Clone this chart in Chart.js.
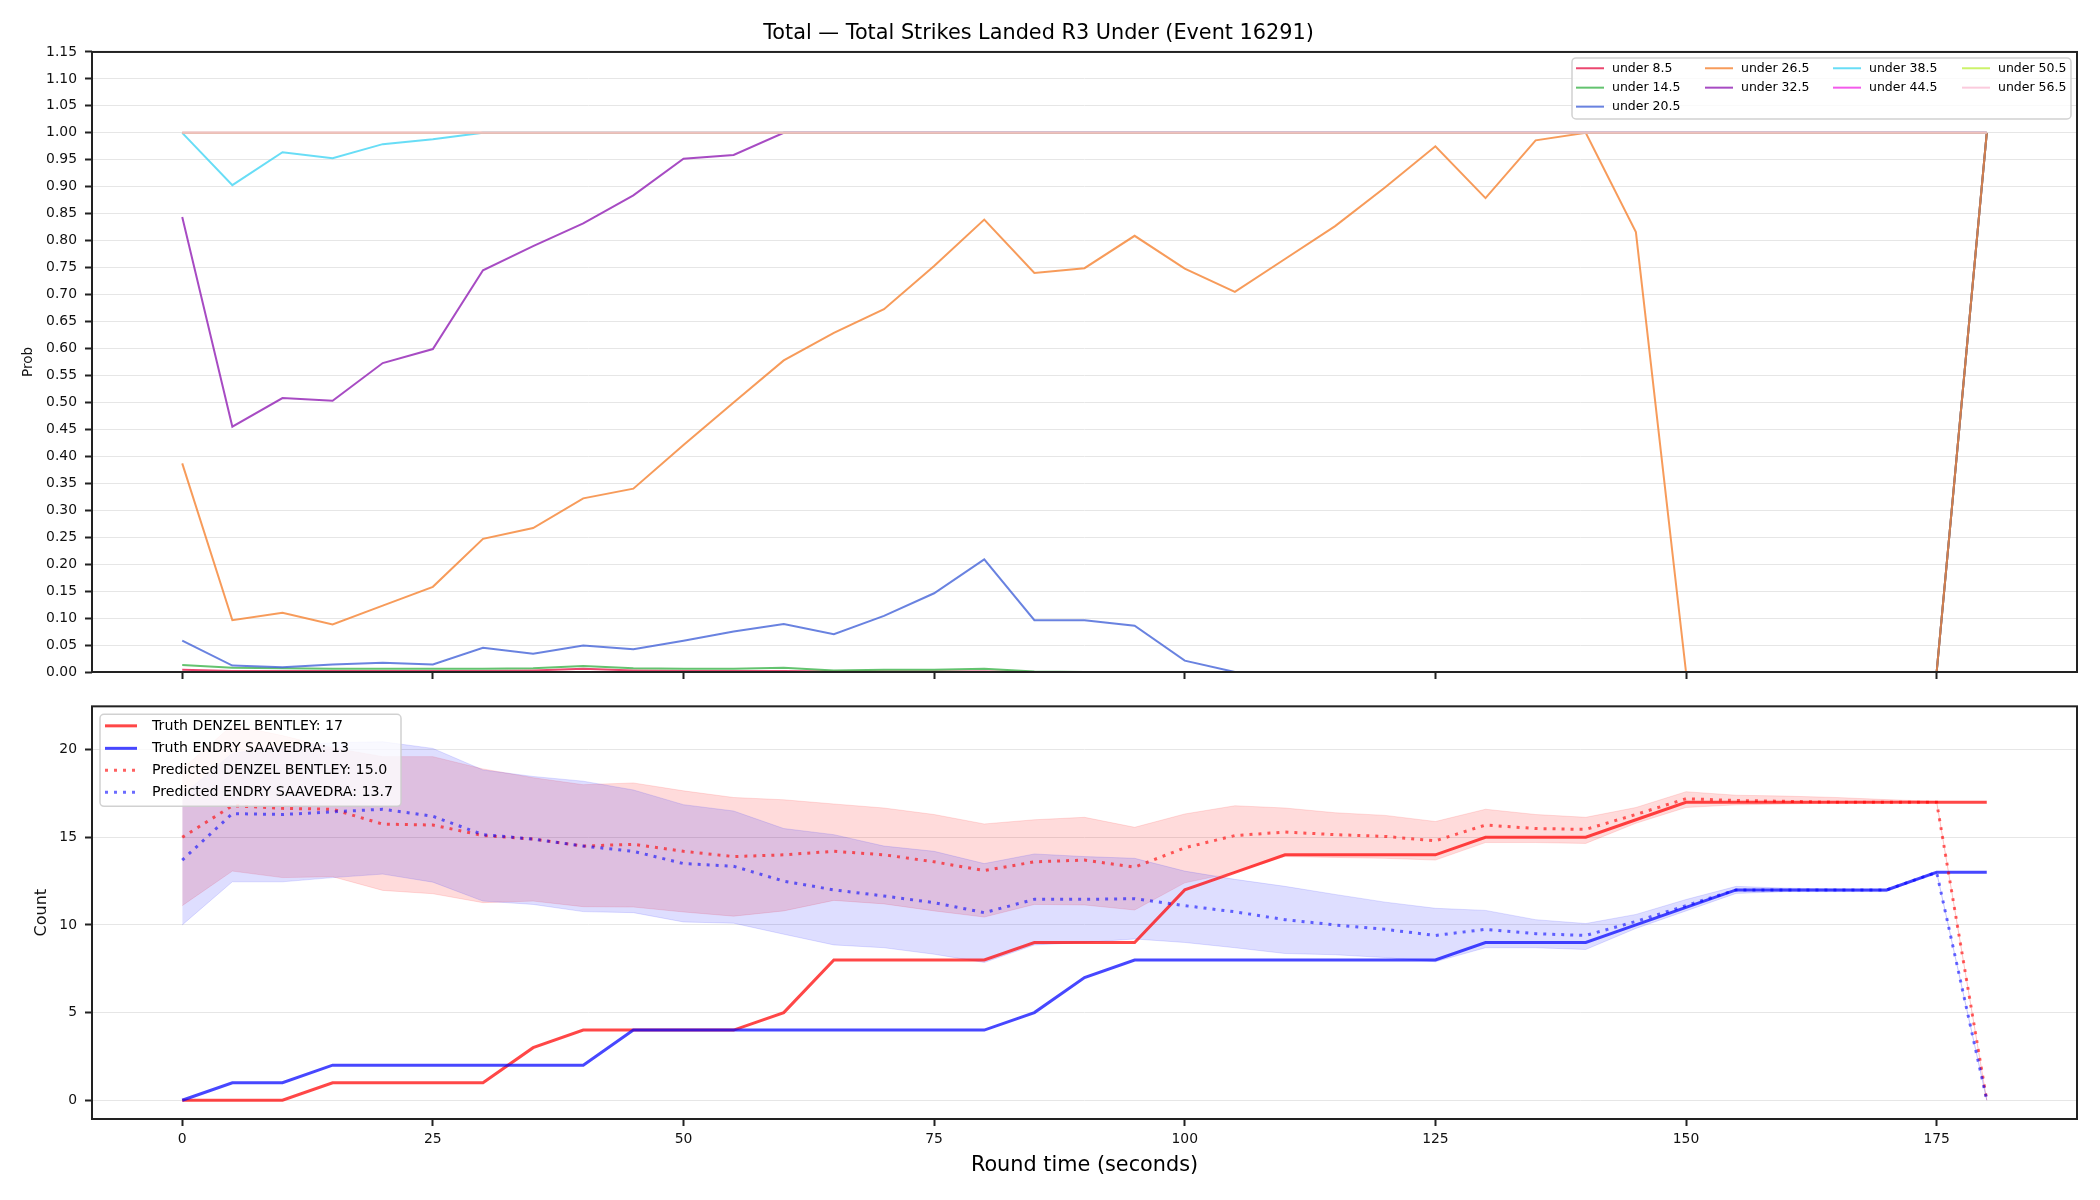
<!DOCTYPE html>
<html><head><meta charset="utf-8">
<script src="https://cdn.jsdelivr.net/npm/chart.js@4.4.0/dist/chart.umd.min.js"></script>
<style>
html,body{margin:0;padding:0;background:#fff;}
#wrap{position:relative;width:2100px;height:1200px;background:#fff;overflow:hidden;}
.c{position:absolute;left:0;}
canvas{display:block;}
</style></head><body>
<div id="wrap">
<div class="c" style="top:0;width:2100px;height:690px"><canvas id="topc" width="2100" height="690" style="width:2100px;height:690px"></canvas></div>
<div class="c" style="top:690px;width:2100px;height:510px"><canvas id="botc" width="2100" height="510" style="width:2100px;height:510px"></canvas></div>
</div>
<script>
// ---------- data ----------
const TITLE = 'Total \u2014 Total Strikes Landed R3 Under (Event 16291)';
const TIME = [0,5,10,15,20,25,30,35,40,45,50,55,60,65,70,75,80,85,90,95,100,105,110,115,120,125,130,135,140,145,150,155,160,165,170,175,180];
const X_TICKS = [0,25,50,75,100,125,150,175];
const PROB_TICKS = [0,0.05,0.10,0.15,0.20,0.25,0.30,0.35,0.40,0.45,0.50,0.55,0.60,0.65,0.70,0.75,0.80,0.85,0.90,0.95,1.00,1.05,1.10,1.15];
const COUNT_TICKS = [0,5,10,15,20];

const UNDER_LABELS = ['under 8.5','under 14.5','under 20.5','under 26.5','under 32.5','under 38.5','under 44.5','under 50.5','under 56.5'];
const UNDER_8_5  = [0.004,0.002,0.002,0.002,0.002,0.002,0.002,0.003,0.006,0.003,0.002,0.002,0.002,0.001,0.001,0.001,0.001,0,0,0,0,0,0,0,0,0,0,0,0,0,0,0,0,0,0,0,1];
const UNDER_14_5 = [0.013,0.008,0.007,0.006,0.006,0.006,0.006,0.007,0.011,0.007,0.006,0.006,0.008,0.003,0.004,0.004,0.006,0.001,0,0,0,0,0,0,0,0,0,0,0,0,0,0,0,0,0,0,1];
const UNDER_20_5 = [0.058,0.012,0.009,0.014,0.017,0.014,0.045,0.034,0.049,0.042,0.058,0.075,0.089,0.070,0.104,0.146,0.209,0.096,0.096,0.086,0.021,0,0,0,0,0,0,0,0,0,0,0,0,0,0,0,1];
const UNDER_26_5 = [0.387,0.096,0.110,0.088,0.123,0.158,0.247,0.267,0.322,0.340,0.421,0.500,0.578,0.629,0.673,0.753,0.839,0.740,0.749,0.809,0.748,0.705,0.766,0.827,0.899,0.975,0.879,0.986,1.0,0.816,0,0,0,0,0,0,1];
const UNDER_32_5 = [0.844,0.455,0.508,0.503,0.573,0.599,0.745,0.790,0.832,0.884,0.952,0.959,1,1,1,1,1,1,1,1,1,1,1,1,1,1,1,1,1,1,1,1,1,1,1,1,1];
const UNDER_38_5 = [1.0,0.903,0.964,0.953,0.979,0.988,1,1,1,1,1,1,1,1,1,1,1,1,1,1,1,1,1,1,1,1,1,1,1,1,1,1,1,1,1,1,1];
const UNDER_44_5 = [1,1,1,1,1,1,1,1,1,1,1,1,1,1,1,1,1,1,1,1,1,1,1,1,1,1,1,1,1,1,1,1,1,1,1,1,1];
const UNDER_50_5 = [1,1,1,1,1,1,1,1,1,1,1,1,1,1,1,1,1,1,1,1,1,1,1,1,1,1,1,1,1,1,1,1,1,1,1,1,1];
const UNDER_56_5 = [1,1,1,1,1,1,1,1,1,1,1,1,1,1,1,1,1,1,1,1,1,1,1,1,1,1,1,1,1,1,1,1,1,1,1,1,1];
const UNDER_COLORS = ['rgba(230,25,75,0.8)','rgba(60,180,75,0.8)','rgba(67,99,216,0.8)','rgba(245,130,49,0.8)','rgba(145,30,180,0.8)','rgba(66,212,244,0.8)','rgba(240,50,230,0.8)','rgba(191,239,69,0.8)','rgba(250,190,212,0.8)'];

const TRUTH_A_LABEL = 'Truth DENZEL BENTLEY: 17';
const TRUTH_B_LABEL = 'Truth ENDRY SAAVEDRA: 13';
const PRED_A_LABEL = 'Predicted DENZEL BENTLEY: 15.0';
const PRED_B_LABEL = 'Predicted ENDRY SAAVEDRA: 13.7';
const TRUTH_A = [0,0,0,1,1,1,1,3,4,4,4,4,5,8,8,8,8,9,9,9,12,13,14,14,14,14,15,15,15,16,17,17,17,17,17,17,17];
const TRUTH_B = [0,1,1,2,2,2,2,2,2,4,4,4,4,4,4,4,4,5,7,8,8,8,8,8,8,8,9,9,9,10,11,12,12,12,12,13,13];
const PRED_A = [15.0,16.8,16.65,16.6,15.75,15.7,15.1,14.9,14.5,14.6,14.2,13.9,14.0,14.2,14.0,13.6,13.1,13.6,13.7,13.3,14.4,15.1,15.3,15.15,15.05,14.8,15.7,15.5,15.45,16.3,17.2,17.1,17.05,17.0,17.0,17.0,0];
const PRED_B = [13.7,16.35,16.3,16.45,16.6,16.2,15.15,14.9,14.5,14.2,13.5,13.35,12.5,12.0,11.65,11.27,10.7,11.46,11.46,11.5,11.1,10.75,10.3,10.0,9.75,9.4,9.75,9.5,9.4,10.2,11.1,12.0,12.0,12.0,12.0,13.0,0];
const BAND_A_HI = [18.9,21.4,20.8,20.1,19.6,19.6,18.9,18.4,18.0,18.1,17.65,17.27,17.14,16.9,16.67,16.3,15.76,16.0,16.14,15.57,16.33,16.8,16.67,16.4,16.25,15.9,16.6,16.3,16.14,16.7,17.6,17.4,17.35,17.27,17.15,17.05,0];
const BAND_A_LO = [11.1,13.07,12.7,12.75,11.97,11.78,11.27,11.36,11.04,11.02,10.74,10.5,10.8,11.4,11.2,10.8,10.45,11.17,11.14,10.85,12.4,13.0,13.9,13.85,13.8,13.7,14.7,14.7,14.65,15.8,16.7,16.85,16.9,16.95,17.0,17.0,0];
const BAND_B_HI = [17.4,19.8,20.2,20.4,20.45,20.07,18.84,18.47,18.2,17.7,16.86,16.5,15.5,15.15,14.5,14.2,13.5,14.05,13.9,13.8,13.07,12.6,12.2,11.74,11.3,10.95,10.83,10.3,10.08,10.6,11.45,12.2,12.1,12.05,12.0,13.0,0];
const BAND_B_LO = [10.0,12.46,12.46,12.7,12.9,12.44,11.36,11.17,10.76,10.7,10.17,10.1,9.47,8.86,8.7,8.33,7.86,8.86,9.0,9.2,9.0,8.7,8.37,8.3,8.14,7.9,8.7,8.7,8.6,9.8,10.8,11.8,11.9,11.9,11.9,13.0,0];

// ---------- helpers ----------
const FONT = '"DejaVu Sans", sans-serif';
Chart.defaults.font.family = FONT;
Chart.defaults.color = '#111';
const pts = arr => arr.map((v, i) => ({x: TIME[i], y: v}));

function framePlugin() {
  return {
    id: 'frame',
    afterDatasetsDraw(chart) {
      const {ctx, chartArea: a} = chart;
      ctx.save();
      ctx.strokeStyle = '#222';
      ctx.lineWidth = 2;
      ctx.strokeRect(a.left, a.top, a.right - a.left, a.bottom - a.top);
      ctx.restore();
    }
  };
}

function legendPlugin(cfg) {
  return {
    id: 'boxLegend',
    afterDraw(chart) {
      const ctx = chart.ctx, ca = chart.chartArea;
      const left = cfg.anchor === 'right' ? ca.right - cfg.inset - cfg.width : ca.left + cfg.inset;
      const top = ca.top + cfg.inset;
      ctx.save();
      ctx.beginPath();
      if (ctx.roundRect) ctx.roundRect(left, top, cfg.width, cfg.height, 4); else ctx.rect(left, top, cfg.width, cfg.height);
      ctx.fillStyle = 'rgba(255,255,255,0.8)';
      ctx.fill();
      ctx.strokeStyle = 'rgba(204,204,204,0.9)';
      ctx.lineWidth = 1.5;
      ctx.stroke();
      ctx.font = cfg.fontSize + 'px ' + FONT;
      ctx.textBaseline = 'middle';
      ctx.textAlign = 'left';
      cfg.columns.forEach((col, ci) => {
        col.forEach((di, ri) => {
          const ds = chart.data.datasets[di];
          const x0 = left + cfg.colX[ci], y = top + cfg.rowY[ri];
          ctx.beginPath();
          ctx.strokeStyle = ds.borderColor;
          ctx.lineWidth = ds.borderWidth;
          ctx.setLineDash(ds.borderDash || []);
          ctx.moveTo(x0, y);
          ctx.lineTo(x0 + cfg.lineLen, y);
          ctx.stroke();
          ctx.setLineDash([]);
          ctx.fillStyle = '#000';
          ctx.fillText(ds.label, x0 + cfg.textGap, y);
        });
      });
      ctx.restore();
    }
  };
}

const xScaleBase = {
  type: 'linear', min: -9, max: 189,
  afterBuildTicks: s => { s.ticks = X_TICKS.map(v => ({value: v})); },
  grid: {display: true, drawOnChartArea: false, drawTicks: true, tickLength: 7, tickColor: '#222', tickWidth: 2},
  border: {display: false}
};

// ---------- top chart ----------
const UNDER_SERIES = [UNDER_8_5, UNDER_14_5, UNDER_20_5, UNDER_26_5, UNDER_32_5, UNDER_38_5, UNDER_44_5, UNDER_50_5, UNDER_56_5];
const topSets = UNDER_SERIES.map((arr, i) => ({
  label: UNDER_LABELS[i],
  data: pts(arr),
  borderColor: UNDER_COLORS[i],
  backgroundColor: UNDER_COLORS[i],
  borderWidth: 2,
  pointRadius: 0,
  tension: 0,
  fill: false,
  order: UNDER_SERIES.length - i
}));

new Chart(document.getElementById('topc'), {
  type: 'line',
  data: {datasets: topSets},
  options: {
    responsive: false, animation: false, devicePixelRatio: 1,
    layout: {padding: {left: 0, right: 23, top: 0, bottom: 0}},
    plugins: {
      legend: {display: false}, tooltip: {enabled: false},
      title: {display: true, text: TITLE, color: '#000', font: {size: 20.8, weight: 'normal'}, padding: {top: 21.5, bottom: 5.5}}
    },
    scales: {
      x: Object.assign({}, xScaleBase, {ticks: {display: false}, afterFit: s => { s.height = 18; }}),
      y: {
        min: 0, max: 1.15,
        afterBuildTicks: s => { s.ticks = PROB_TICKS.map(v => ({value: v})); },
        ticks: {callback: v => Number(v).toFixed(2), color: '#111', font: {size: 13.9}, padding: 8},
        grid: {color: '#e6e6e6', lineWidth: 1, tickColor: '#222', tickLength: 7, tickWidth: 2},
        border: {display: false},
        title: {display: true, text: 'Prob', color: '#111', font: {size: 13.5}, padding: {top: 20, bottom: 0}},
        afterFit: s => { s.width = 92; }
      }
    }
  },
  plugins: [framePlugin(), legendPlugin({
    anchor: 'right', inset: 6, width: 499, height: 61, fontSize: 12.5,
    columns: [[0,1,2],[3,4],[5,6],[7,8]],
    colX: [4, 133, 261, 390], rowY: [10.3, 29.7, 48.7], lineLen: 28, textGap: 36
  })]
});

// ---------- bottom chart ----------
const RED_SOLID = 'rgba(255,0,0,0.72)', BLUE_SOLID = 'rgba(0,0,255,0.72)';
const RED_DOT = 'rgba(255,0,0,0.62)', BLUE_DOT = 'rgba(0,0,255,0.58)';
const RED_FILL = 'rgba(255,0,0,0.14)', BLUE_FILL = 'rgba(0,0,255,0.13)';
const RED_EDGE = 'rgba(255,0,0,0.12)', BLUE_EDGE = 'rgba(0,0,255,0.12)';
const lineDs = (label, arr, color, width, dash, fill, bg) => ({
  label, data: pts(arr), borderColor: color, backgroundColor: bg || color,
  borderWidth: width, borderDash: dash, pointRadius: 0, tension: 0, fill
});
const botSets = [
  lineDs('band A hi', BAND_A_HI, RED_EDGE, 1, [], '+1', RED_FILL),
  lineDs('band A lo', BAND_A_LO, RED_EDGE, 1, [], false),
  lineDs('band B hi', BAND_B_HI, BLUE_EDGE, 1, [], '+1', BLUE_FILL),
  lineDs('band B lo', BAND_B_LO, BLUE_EDGE, 1, [], false),
  lineDs(TRUTH_A_LABEL, TRUTH_A, RED_SOLID, 3, [], false),
  lineDs(TRUTH_B_LABEL, TRUTH_B, BLUE_SOLID, 3, [], false),
  lineDs(PRED_A_LABEL, PRED_A, RED_DOT, 3, [3, 6], false),
  lineDs(PRED_B_LABEL, PRED_B, BLUE_DOT, 3, [3, 6], false)
];
botSets.forEach((d, i) => { d.order = botSets.length - i; });

new Chart(document.getElementById('botc'), {
  type: 'line',
  data: {datasets: botSets},
  options: {
    responsive: false, animation: false, devicePixelRatio: 1,
    layout: {padding: {left: 0, right: 23, top: 14, bottom: 0}},
    plugins: {legend: {display: false}, tooltip: {enabled: false}, title: {display: false}},
    scales: {
      x: Object.assign({}, xScaleBase, {
        ticks: {display: true, callback: v => String(v), color: '#111', font: {size: 13.9}, padding: 5, maxRotation: 0, autoSkip: false},
        title: {display: true, text: 'Round time (seconds)', color: '#000', font: {size: 20.8}, padding: {top: 4, bottom: 22}},
        afterFit: s => { s.height = 81; }
      }),
      y: {
        min: -1.07, max: 22.47,
        afterBuildTicks: s => { s.ticks = COUNT_TICKS.map(v => ({value: v})); },
        ticks: {callback: v => String(v), color: '#111', font: {size: 13.9}, padding: 8},
        grid: {color: '#e6e6e6', lineWidth: 1, tickColor: '#222', tickLength: 7, tickWidth: 2},
        border: {display: false},
        title: {display: true, text: 'Count', color: '#111', font: {size: 16}, padding: {top: 32, bottom: 0}},
        afterFit: s => { s.width = 92; }
      }
    }
  },
  plugins: [framePlugin(), legendPlugin({
    anchor: 'left', inset: 8, width: 301, height: 92, fontSize: 14.2,
    columns: [[4,5,6,7]],
    colX: [5], rowY: [11.5, 34, 56, 78], lineLen: 32, textGap: 47
  })]
});
</script>
</body></html>
